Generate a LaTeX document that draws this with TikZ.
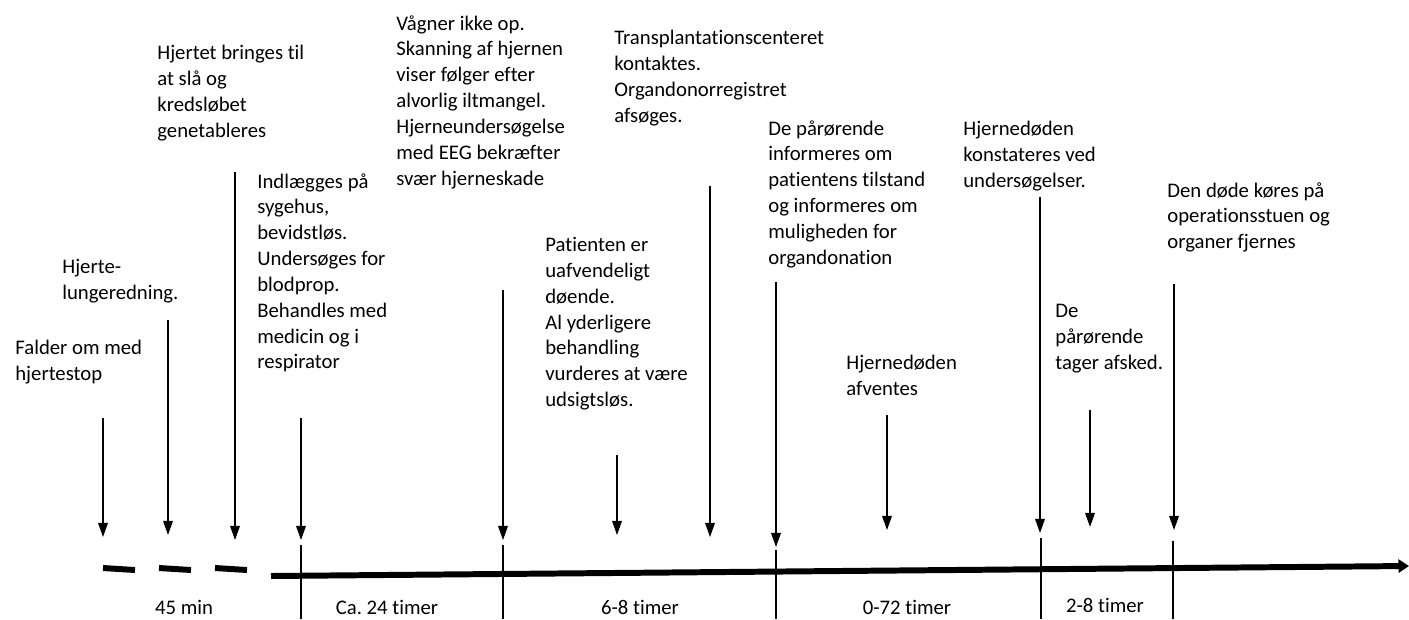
\documentclass[tikz,border=0pt]{standalone}
\usepackage{fontspec}
\setmainfont{Carlito}[Ligatures=NoCommon]
\usetikzlibrary{arrows.meta}

\begin{document}
\begin{tikzpicture}[x=0.02cm,y=-0.02cm,
  txt/.style={anchor=north west, inner sep=0pt, align=left, font=\fontsize{11.8}{14.7}\selectfont},
  dur/.style={inner sep=0pt, font=\fontsize{11.8}{12}\selectfont},
  pil/.style={-{Triangle[length=8pt,width=5.5pt]}, line width=0.75pt},
  akse/.style={line width=3.4pt},
  streg/.style={line width=0.6pt}]

\useasboundingbox (0,0) rectangle (1409,619);

% haendelser
\node[txt] (falder) at (15,340) {Falder om med\\hjertestop};
\node[txt] (hlr) at (62,259) {Hjerte-\\lungeredning.};
\node[txt] (hjertet) at (157,45) {Hjertet bringes til\\at slå og\\kredsløbet\\genetableres};
\node[txt] (indlaeg) at (257,173) {Indlægges på\\sygehus,\\bevidstløs.\\Undersøges for\\blodprop.\\Behandles med\\medicin og i\\respirator};
\node[txt] (vaagner) at (396,15) {Vågner ikke op.\\Skanning af hjernen\\viser følger efter\\alvorlig iltmangel.\\Hjerneundersøgelse\\med EEG bekræfter\\svær hjerneskade};
\node[txt] (doende) at (545,237) {Patienten er\\uafvendeligt\\døende.\\Al yderligere\\behandling\\vurderes at være\\udsigtsløs.};
\node[txt] (transpl) at (614,30) {Transplantationscenteret\\kontaktes.\\Organdonorregistret\\afsøges.};
\node[txt] (info) at (768,120) {De pårørende\\informeres om\\patientens tilstand\\og informeres om\\muligheden for\\organdonation};
\node[txt] (afvent) at (846,355) {Hjernedøden\\afventes};
\node[txt] (konst) at (963,121) {Hjernedøden\\konstateres ved\\undersøgelser.};
\node[txt] (afsked) at (1055,304) {De\\pårørende\\tager afsked.};
\node[txt] (fjernes) at (1167,182) {Den døde køres på\\operationsstuen og\\organer fjernes};

% pile ned mod tidslinjen
\foreach \n/\x/\a/\b in {1/103/418/537, 2/168/320/535, 3/235/172/540, 4/301/418/540,
    5/503/290/540, 6/617/455/535, 7/710/186/537, 8/776/282/547,
    9/887/415/530, 10/1040/197/533, 11/1090/410/527, 12/1174/284/530}
{
  \coordinate (s\n) at (\x,\a);
  \coordinate (e\n) at (\x,\b);
  \draw[pil] (s\n) -- (e\n);
}

% tidslinje
\foreach \x in {103,159,215}
  \draw[akse] (\x,568) -- ++(32,2);
\coordinate (start) at (271,576);
\coordinate (slut) at (1409,566);
\draw[akse, -{Triangle[length=6pt,width=7.5pt]}] (start) -- (slut);

% skillestreger
\foreach \n/\x/\a in {1/301/545, 2/503/545, 3/776/550, 4/1041/538, 5/1173/541}
{
  \coordinate (t\n) at (\x,\a);
  \coordinate (u\n) at (\x,619);
  \draw[streg] (t\n) -- (u\n);
}

% varighed
\node[dur] (d1) at (184,607) {45 min};
\node[dur] (d2) at (387,607) {Ca.\ 24 timer};
\node[dur] (d3) at (640,607) {6-8 timer};
\node[dur] (d4) at (907,607) {0-72 timer};
\node[dur] (d5) at (1105,605) {2-8 timer};

\end{tikzpicture}
\end{document}
